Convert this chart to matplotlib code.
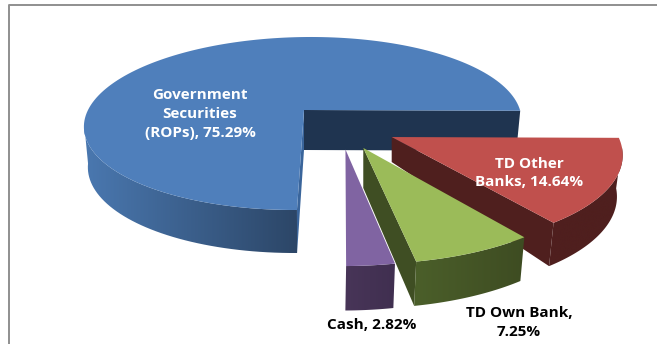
import numpy as np
import matplotlib
matplotlib.use("Agg")
import matplotlib.pyplot as plt
from matplotlib.patches import Polygon
from matplotlib.colors import LinearSegmentedColormap

categories = ["Government Securities (ROPs)", "TD Other Banks", "TD Own Bank", "Cash"]
shares = [75.29, 14.64, 7.25, 2.82]

top_colors = ["#4f7fbb", "#c0504d", "#9bbb59", "#8064a2"]
wall_from = ["#4a78b0", "#4f1f1e", "#4b5f2a", "#483558"]
wall_to = ["#2c4667", "#4f1f1e", "#3e4c22", "#402f50"]
inner_colors = ["#1f3450", "#4f1f1e", "#3f4e23", "#402f50"]

# pie plane seen from above: centre, radii, perspective
cx, cy = 304, 110
rx, ry = 216, 84.4
persp = 0.156
shear = 8
depth = 40

# how far each slice is pulled out, in radii
pull_out = [(0, 0), (0.398, -0.305), (0.272, -0.42), (0.195, -0.435)]
apex_depth = [40, 25, 40, 40]


def proj(u, v):
    w = 1 + persp * v
    return cx + (rx * u + shear * v) / w, cy - ry * v / w


def proj_low(u, v):
    # same point on the underside of the pie
    x, y = proj(u, v)
    return cx + (x - cx) * 0.982, y + depth / (1 + 0.07 * v)


fig = plt.figure(figsize=(6.57, 3.44), dpi=100)
ax = fig.add_axes([0, 0, 1, 1])
ax.axis("off")

# chart area border, only the top and left sides are in view
ax.plot([8.5, 8.5, 670], [350, 4.5, 4.5], color="#8f8f8f", lw=1.4)

# slices run clockwise from three o'clock; the big one is stored as a positive sweep
sweeps = np.array(shares) / sum(shares) * 360
start = -0.5
spans = [(start, start + sweeps[0])]
ang = start
for s in sweeps[1:]:
    spans.append((ang, ang - s))
    ang -= s


def cut_face(i, u, v, color, z):
    du, dv = pull_out[i]
    ax0, ay0 = proj(du, dv)
    ax.add_patch(Polygon([(ax0, ay0), proj(u, v), proj_low(u, v), (ax0, ay0 + apex_depth[i])],
                         fc=color, ec="none", zorder=z))


# back to front: blue, red, purple, green
for i in [0, 1, 3, 2]:
    a0, a1 = spans[i]
    du, dv = pull_out[i]
    th = np.radians(np.linspace(a0, a1, 160))
    us = np.cos(th) + du
    vs = np.sin(th) + dv

    if i == 0:
        cut_face(i, us[0], vs[0], inner_colors[0], i)
        cut_face(i, us[-1], vs[-1], "#3a659b", i)
    elif i in (1, 2):
        cut_face(i, us[-1], vs[-1], inner_colors[i], i)

    # outer wall starts at the silhouette of the rim, filled with a left-to-right shade
    keep = np.ones(len(th), dtype=bool)
    if i == 0:
        keep = np.degrees(th) >= 188
    elif i == 1:
        keep = np.degrees(th) <= -6
    upper = [proj(u, v) for u, v in zip(us[keep], vs[keep])]
    lower = [proj_low(u, v) for u, v in zip(us[keep], vs[keep])]
    outline = np.array(upper + lower[::-1])
    wall = Polygon(outline, fc="none", ec="none", zorder=i + 0.1)
    ax.add_patch(wall)
    cmap = LinearSegmentedColormap.from_list("wall", [wall_from[i], wall_to[i]])
    im = ax.imshow(np.linspace(0, 1, 256).reshape(1, -1), cmap=cmap, aspect="auto",
                   extent=(outline[:, 0].min(), outline[:, 0].max(), outline[:, 1].max(), outline[:, 1].min()),
                   interpolation="bilinear", zorder=i + 0.1)
    im.set_clip_path(wall)

    # top face
    top = [proj(du, dv)] + [proj(u, v) for u, v in zip(us, vs)]
    ax.add_patch(Polygon(top, fc=top_colors[i], ec="none", zorder=i + 0.2))

ax.set_xlim(0, 657)
ax.set_ylim(344, 0)

font = dict(family="Open Sans", fontweight="bold", fontsize=11, ha="center", va="center", zorder=10, linespacing=1.42)
ax.text(200, 114, f"Government\nSecurities\n(ROPs), {shares[0]:.2f}%", color="white", **font)
ax.text(529, 173, f"TD Other\nBanks, {shares[1]:.2f}%", color="white", **font)
ax.text(372, 325, f"Cash, {shares[3]:.2f}%", color="black", **font)
ax.text(519, 322.5, f"TD Own Bank,\n{shares[2]:.2f}%", color="black", **font)

fig.savefig("out.png", dpi=100)
